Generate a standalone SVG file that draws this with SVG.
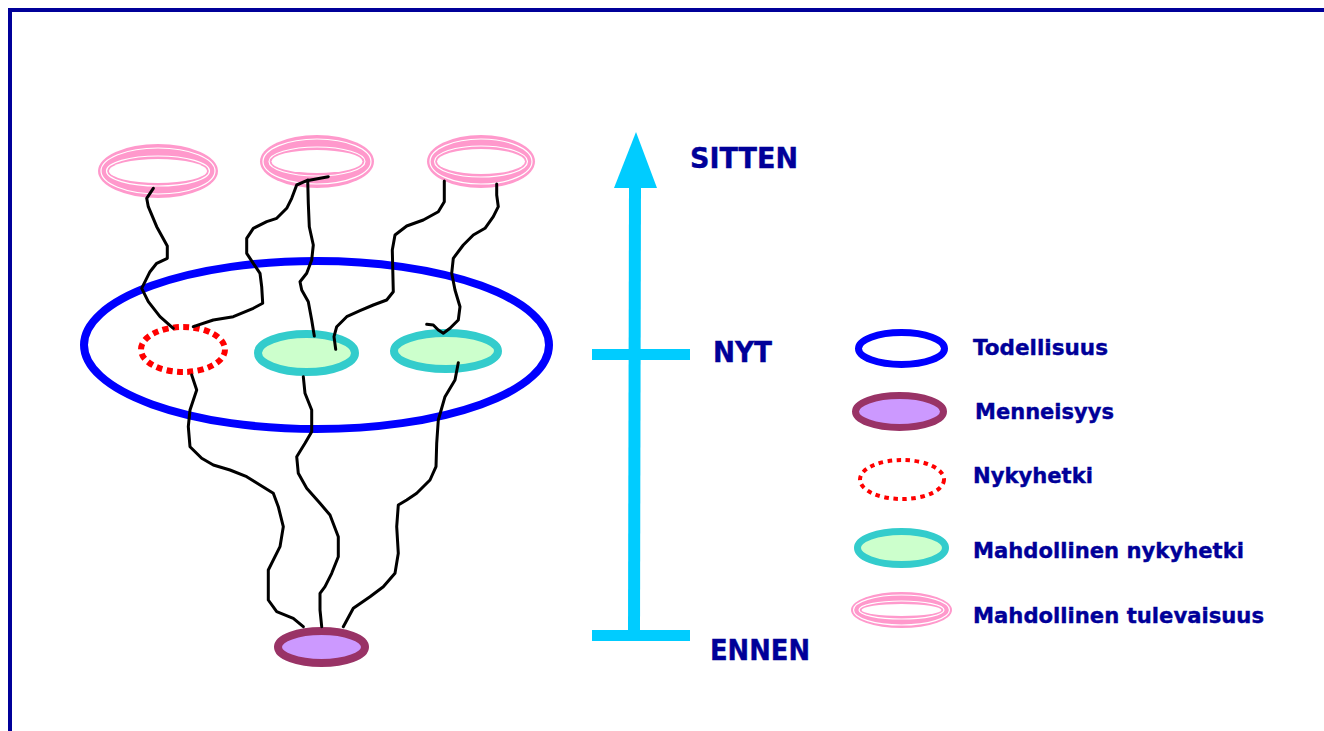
<svg xmlns="http://www.w3.org/2000/svg" width="1324" height="731" viewBox="0 0 1324 731">
<style>
.lbl{font-family:"DejaVu Sans","Verdana",sans-serif;font-weight:bold;fill:#000099;stroke:#000099;stroke-width:0.4;}
.big{font-size:28px;}
.leg{font-size:22px;}
.wire{fill:none;stroke:#000000;stroke-width:3;stroke-linejoin:round;stroke-linecap:round;}
.pinkOuter{fill:#FF99CC;stroke:none;}
.pinkHole{fill:#FFFFFF;stroke:none;}
.pinkLine{fill:none;stroke:#FFFFFF;stroke-width:1.2;}
.real{fill:none;stroke:#0000FF;}
.past{fill:#CC99FF;stroke:#993366;}
.now{fill:none;stroke:#FF0000;}
.poss{fill:#CCFFCC;stroke:#33CCCC;}
.axis{fill:#00CCFF;}
</style>
<rect x="0" y="0" width="1324" height="731" fill="#FFFFFF"/>
<!-- frame -->
<path d="M10,731 V10 H1324" fill="none" stroke="#000099" stroke-width="4"/>

<!-- reality -->
<g id="todellisuus">
<ellipse class="real" cx="316.5" cy="345" rx="232.5" ry="84" stroke-width="8"/>
</g>

<!-- future rings -->
<g id="tulevaisuus1">
<ellipse class="pinkOuter" cx="158" cy="171" rx="60" ry="27"/>
<ellipse class="pinkHole" cx="158" cy="171" rx="49" ry="12"/>
<ellipse class="pinkLine" cx="158" cy="171" rx="57" ry="23"/>
<ellipse class="pinkLine" cx="158" cy="171" rx="51.5" ry="15"/>
</g>
<g id="tulevaisuus2">
<ellipse class="pinkOuter" cx="317" cy="161.5" rx="57" ry="26.5"/>
<ellipse class="pinkHole" cx="317" cy="161.5" rx="45.5" ry="11.5"/>
<ellipse class="pinkLine" cx="317" cy="161.5" rx="54" ry="22.5"/>
<ellipse class="pinkLine" cx="317" cy="161.5" rx="48" ry="14.5"/>
</g>
<g id="tulevaisuus3">
<ellipse class="pinkOuter" cx="481" cy="161.5" rx="54" ry="26.5"/>
<ellipse class="pinkHole" cx="481" cy="161.5" rx="44" ry="12.5"/>
<ellipse class="pinkLine" cx="481" cy="161.5" rx="51" ry="22.5"/>
<ellipse class="pinkLine" cx="481" cy="161.5" rx="46.5" ry="15.5"/>
</g>

<!-- present -->
<g id="nykyhetki">
<ellipse class="now" cx="183" cy="349.5" rx="42" ry="22.5" stroke-width="6" stroke-dasharray="6 4.35"/>
</g>
<g id="mahdollinen1">
<ellipse class="poss" cx="306.5" cy="353" rx="48.5" ry="19" stroke-width="8"/>
</g>
<g id="mahdollinen2">
<ellipse class="poss" cx="446" cy="351" rx="52" ry="18" stroke-width="8"/>
</g>

<!-- past -->
<g id="menneisyys">
<ellipse class="past" cx="321.5" cy="647" rx="43.5" ry="16" stroke-width="8"/>
</g>

<!-- connectors -->
<g id="connectors">
<polyline class="wire" points="153.3,188.3 146.7,198.3 148.3,206.7 156.7,226.7 167.3,246 167.3,258.3 156.7,263.3 150,271.7 141.7,288.3 148.3,301.7 160,316.7 173.3,328.3"/>
<polyline class="wire" points="328.3,176.7 306.7,180.7 296.7,185 291.7,198.3 286.7,208.3 276.7,218.3 266.7,221.7 253.3,228.3 246.7,238.3 246.7,253.3 253.3,263.3 260,273.3 261.7,286.7 262.7,303.3 253.3,308.3 233.3,316.7 213.3,320 193.3,326.7"/>
<polyline class="wire" points="307.7,180 308.3,203.3 309.3,226.7 313.3,245 311.7,260 306.7,273.3 300,281.7 301.7,290 308.3,301.7 311.7,320 314.3,336"/>
<polyline class="wire" points="444.3,181 444.3,201.7 438.3,211.7 423.3,220 406.7,226 395,235 392.3,250 392.7,266.7 393.3,291.7 386.7,300 373.3,305 360,310.7 346.7,316.7 336.7,326.7 334,336.7 335.7,349.3"/>
<polyline class="wire" points="496.7,184 496.7,195 498.3,206.7 493.3,216.7 485,228.3 473.3,235 463.3,245 453.3,258.3 451.7,273.3 455,290 460,306.7 458.3,320 450,328.3 443.3,333.3 438.3,330 433.3,325 426.7,324.3"/>
<polyline class="wire" points="191.7,375 196.7,390 190,410 188.3,426.7 190,446.7 201.7,458.3 213.3,465 230,470 246.7,476.7 260,485 273.3,493.3 278.3,506.7 283.3,526.7 280,546.7 268.3,570 268.3,600 276.7,611.7 293.3,618.3 303.3,626.7"/>
<polyline class="wire" points="303.3,376.7 305,393.3 311.7,410 311.7,431.7 305,443.3 296.7,456.7 298.3,473.3 306.7,488.3 320,503.3 330,515 338.3,536.7 338.3,556.7 331.7,573.3 325,586.7 320,593.3 320,610 321.7,626.7"/>
<polyline class="wire" points="458.3,362.7 455,380 445,396.7 438.3,420 436.7,443.3 436,466.7 430,480 416.7,493.3 406.7,500 398.3,505 396.7,526.7 398.3,553.3 395,573.3 383.3,586.7 370,596.7 353.3,608.3 343.3,626.7"/>
</g>

<!-- time axis -->
<g id="aikajana">
<polygon class="axis" points="636,132 657,188 614,188"/>
<polygon class="axis" points="629,186 641,186 640,632 628,632"/>
<rect class="axis" x="592" y="349" width="98" height="11"/>
<rect class="axis" x="592" y="630" width="98" height="11"/>
</g>
<g id="axis-labels">
<text class="lbl big" x="690" y="168" textLength="108" lengthAdjust="spacingAndGlyphs">SITTEN</text>
<text class="lbl big" x="713" y="362" textLength="59" lengthAdjust="spacingAndGlyphs">NYT</text>
<text class="lbl big" x="710" y="660" textLength="100" lengthAdjust="spacingAndGlyphs">ENNEN</text>
</g>

<!-- legend -->
<g id="legend-todellisuus">
<ellipse class="real" cx="901.5" cy="348.5" rx="43" ry="16" stroke-width="7"/>
<text class="lbl leg" x="973" y="355" textLength="135" lengthAdjust="spacingAndGlyphs">Todellisuus</text>
</g>
<g id="legend-menneisyys">
<ellipse class="past" cx="899.5" cy="411.5" rx="44" ry="16" stroke-width="7"/>
<text class="lbl leg" x="975" y="419" textLength="139" lengthAdjust="spacingAndGlyphs">Menneisyys</text>
</g>
<g id="legend-nykyhetki">
<ellipse class="now" cx="902" cy="479.5" rx="42" ry="19.5" stroke-width="4" stroke-dasharray="4.5 4.5"/>
<text class="lbl leg" x="973" y="483" textLength="120" lengthAdjust="spacingAndGlyphs">Nykyhetki</text>
</g>
<g id="legend-mahdollinen-nykyhetki">
<ellipse class="poss" cx="901.5" cy="548" rx="44" ry="16.5" stroke-width="7"/>
<text class="lbl leg" x="973" y="558" textLength="271" lengthAdjust="spacingAndGlyphs">Mahdollinen nykyhetki</text>
</g>
<g id="legend-mahdollinen-tulevaisuus">
<ellipse class="pinkOuter" cx="901.5" cy="610" rx="50.5" ry="18"/>
<ellipse class="pinkHole" cx="901.5" cy="610" rx="40" ry="6"/>
<ellipse class="pinkLine" cx="901.5" cy="610" rx="48" ry="15"/>
<ellipse class="pinkLine" cx="901.5" cy="610" rx="42.5" ry="9"/>
<text class="lbl leg" x="973" y="623" textLength="291" lengthAdjust="spacingAndGlyphs">Mahdollinen tulevaisuus</text>
</g>
</svg>
